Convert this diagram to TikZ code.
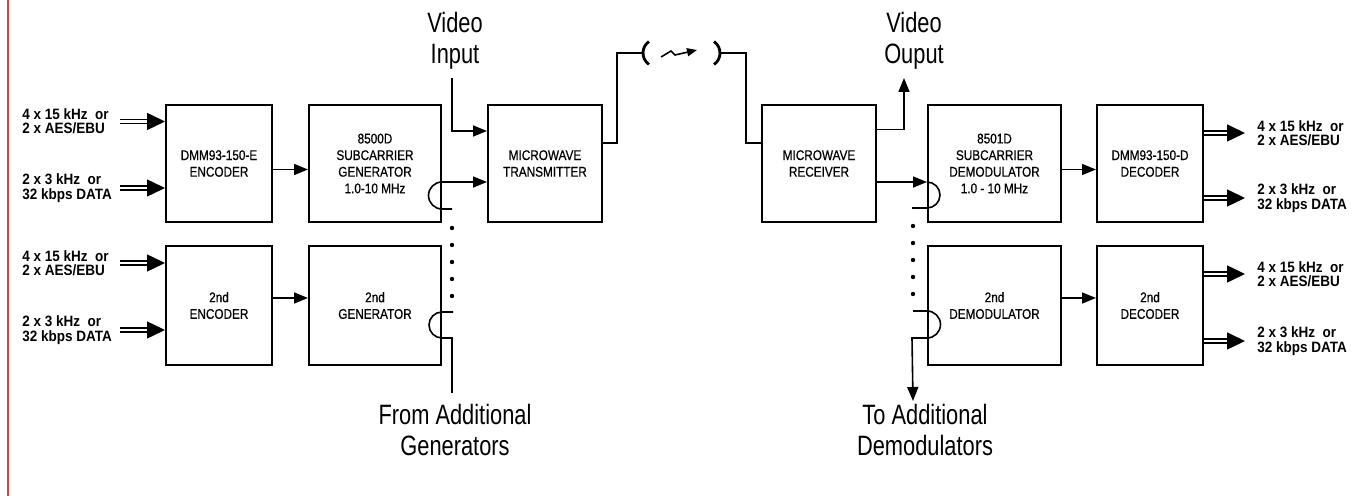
\documentclass[tikz,border=0pt]{standalone}
\usepackage{fontspec}
\setmainfont{Liberation Sans}
\newfontfamily\boxfont[FakeStretch=0.84,FakeBold=0.6]{Liberation Sans}
\newfontfamily\tagfont[FakeStretch=0.9]{Liberation Sans}
\newfontfamily\capfont[FakeStretch=0.78]{Liberation Sans}
\usetikzlibrary{arrows.meta}
\definecolor{margin}{RGB}{200,70,70}
\tikzset{
  unit/.style={draw, line width=1pt, align=center, inner sep=1pt, font=\boxfont\fontsize{7}{8.3}\selectfont},
  tag/.style={align=left, inner sep=0pt, font=\tagfont\bfseries\fontsize{7.5}{7.2}\selectfont},
  caption/.style={align=center, inner sep=0pt, font=\capfont\fontsize{14}{15.5}\selectfont},
  wire/.style={line width=0.8pt},
  feed/.style={wire, -{Triangle[length=7pt,width=5.5pt]}},
  pair/.style={double, double distance=1.4pt, line width=0.75pt, -{Triangle[length=9pt,width=8.5pt]}}
}

\begin{document}
\begin{tikzpicture}[x=0.5pt,y=-0.5pt]
				\useasboundingbox (0,0) rectangle (1362,496);
				\draw[margin, line width=1pt] (8,0) -- (8,496);
				
				% transmit side
				\node[unit, minimum width=53pt, minimum height=58.5pt] (enc) at (219,163.5) {DMM93-150-E\\ENCODER};
				\node[unit, minimum width=66pt, minimum height=58.5pt] (gen) at (375,163.5) {8500D\\SUBCARRIER\\GENERATOR\\1.0-10 MHz};
				\node[unit, minimum width=53pt, minimum height=59.5pt] (enc2) at (219,305.5) {2nd\\ENCODER};
				\node[unit, minimum width=66pt, minimum height=59.5pt] (gen2) at (375,305.5) {2nd\\GENERATOR};
				\node[unit, minimum width=57pt, minimum height=58.5pt] (tx) at (545,163.5) {MICROWAVE\\TRANSMITTER};
				
				% receive side
				\node[unit, minimum width=57pt, minimum height=58.5pt] (rx) at (819,163.5) {MICROWAVE\\RECEIVER};
				\node[unit, minimum width=66.5pt, minimum height=58.5pt] (dem) at (994.5,163.5) {8501D\\SUBCARRIER\\DEMODULATOR\\1.0 - 10 MHz};
				\node[unit, minimum width=53pt, minimum height=58.5pt] (dec) at (1150,163.5) {DMM93-150-D\\DECODER};
				\node[unit, minimum width=66.5pt, minimum height=59.5pt] (dem2) at (994.5,305.5) {2nd\\DEMODULATOR};
				\node[unit, minimum width=53pt, minimum height=59.5pt] (dec2) at (1150,305.5) {2nd\\DECODER};
				
				% audio and data in
				\node[tag, anchor=west] (in1) at (22,121.5) {4 x 15 kHz\ \ or\\2 x AES/EBU};
				\node[tag, anchor=west] (in2) at (22,188) {2 x 3 kHz\ \ or\\32 kbps DATA};
				\node[tag, anchor=west] (in3) at (22,263) {4 x 15 kHz\ \ or\\2 x AES/EBU};
				\node[tag, anchor=west] (in4) at (22,330) {2 x 3 kHz\ \ or\\32 kbps DATA};
				\coordinate (inx) at (120,0);
				\draw[pair] (in1.east -| inx) -- (in1.east -| enc.west);
				\draw[pair] (in2.east -| inx) -- (in2.east -| enc.west);
				\draw[pair] (in3.east -| inx) -- (in3.east -| enc2.west);
				\draw[pair] (in4.east -| inx) -- (in4.east -| enc2.west);
				
				% audio and data out
				\node[tag, anchor=west] (out1) at (1257,133) {4 x 15 kHz\ \ or\\2 x AES/EBU};
				\node[tag, anchor=west] (out2) at (1257,198) {2 x 3 kHz\ \ or\\32 kbps DATA};
				\node[tag, anchor=west] (out3) at (1257,274) {4 x 15 kHz\ \ or\\2 x AES/EBU};
				\node[tag, anchor=west] (out4) at (1257,341) {2 x 3 kHz\ \ or\\32 kbps DATA};
				\draw[pair] (out1.west -| dec.east) -- ([xshift=-6pt]out1.west);
				\draw[pair] (out2.west -| dec.east) -- ([xshift=-6pt]out2.west);
				\draw[pair] (out3.west -| dec2.east) -- ([xshift=-6pt]out3.west);
				\draw[pair] (out4.west -| dec2.east) -- ([xshift=-6pt]out4.west);
				
				\draw[feed] ([yshift=-3pt]enc.east) -- ([yshift=-3pt]enc.east -| gen.west);
				\draw[feed] ([yshift=3.75pt]enc2.east) -- ([yshift=3.75pt]enc2.east -| gen2.west);
				\draw[feed] ([yshift=-3pt]dem.east) -- ([yshift=-3pt]dem.east -| dec.west);
				\draw[feed] ([yshift=3.75pt]dem2.east) -- ([yshift=3.75pt]dem2.east -| dec2.west);
				
				% video
				\node[caption] (vin) at (455,41) {Video\\Input};
				\node[caption] (vout) at (914,41) {Video\\Ouput};
				\coordinate (vdown) at (452,78);
				\coordinate (vup) at (904,78);
				\draw[feed] (vdown) |- ([yshift=16.25pt]tx.west);
				\draw[feed] ([yshift=17pt]rx.east) -| (vup);
				
				% generator loop-through
				\coordinate (gbus) at (452,0);
				\coordinate (gfoot) at (452,393);
				\draw[wire] (gfoot) |- ([yshift=-16.25pt]gen2.east) arc (90:270:13) -- ++(11,0);
				\foreach \dy in {228,245,262,279,296} \fill (452,\dy) circle (1.1pt);
				\draw[feed] ([yshift=-22.75pt]gen.east -| gbus) -- ([yshift=-22.75pt]gen.east) arc (90:270:13.5) -- ([yshift=-9.25pt]tx.west);
				\node[caption] (gcap) at (455,430) {From Additional\\Generators};
				
				% demodulator loop-through
				\coordinate (dbus) at (913,0);
				\coordinate (dfoot) at (913,401);
				\draw[feed] ([yshift=-9.25pt]rx.east) -- ([yshift=-9.25pt]rx.east -| dem.west);
				\draw[wire] ([yshift=-9.25pt]dem.west) arc (-90:90:13) -- ++(-15,0);
				\foreach \dy in {226,243,260,277,294} \fill (913,\dy) circle (1.1pt);
				\draw[feed] ([yshift=-2.75pt]dem2.west -| dbus) -- ([yshift=-2.75pt]dem2.west) arc (-90:90:13.5) -- ++(-15,0) -- (dfoot);
				\node[caption] (dcap) at (925,430) {To Additional\\Demodulators};
				
				% antennas and radio link
				\coordinate (antl) at (643,53);
				\coordinate (antr) at (720,53);
				\draw[wire] ([yshift=10.25pt]tx.east) -- ++(14,0) |- (antl);
				\draw[wire] ([yshift=10.25pt]rx.west) -- ++(-15,0) |- (antr);
				\draw[line width=1.4pt] (657,53) ++(125:14) arc (125:235:14);
				\draw[line width=1.4pt] (706,53) ++(-55:14) arc (-55:55:14);
				\draw[wire, -{Triangle[length=5pt,width=4pt]}] (661,57) -- (671,51) -- (675,55) -- (697,50);
			\end{tikzpicture}
\end{document}
